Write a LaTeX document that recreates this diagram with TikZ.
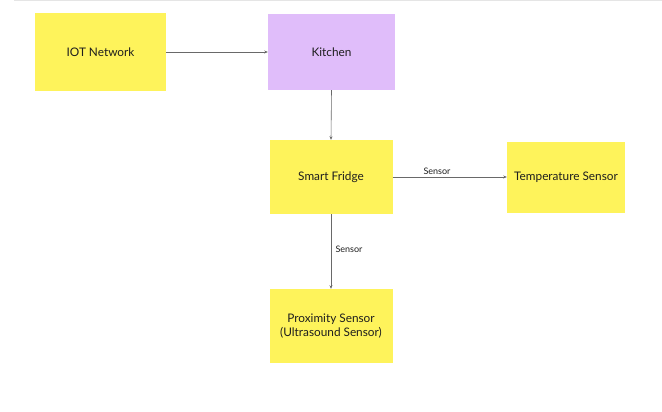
\documentclass[tikz,border=0pt]{standalone}
\usepackage{fontspec}
\setmainfont{Lato}
\usetikzlibrary{arrows.meta}
\definecolor{stickyyellow}{RGB}{254,243,91}
\definecolor{stickypurple}{RGB}{224,189,250}
\definecolor{linegray}{RGB}{105,105,105}
\definecolor{txt}{RGB}{30,30,30}
\begin{document}
\begin{tikzpicture}[x=1pt,y=-1pt,
  sticky/.style={rectangle, fill=stickyyellow, inner sep=0pt, align=center,
    font=\fontsize{11.8}{14.5}\selectfont, text=txt},
  conn/.style={draw=linegray, line width=0.6pt, -{Stealth[length=3.5pt,width=3pt]}},
  lbl/.style={font=\fontsize{9}{10}\selectfont, text=txt, inner sep=1pt}]
\useasboundingbox (0,0) rectangle (662,412);
\fill[white] (0,0) rectangle (662,412);
\draw[gray!20, line width=1.5pt] (14,0.6) -- (662,0.6);
\node[sticky, minimum width=131pt, minimum height=78pt] (iot) at (100.5,52) {IOT Network};
\node[sticky, fill=stickypurple, minimum width=127pt, minimum height=76pt] (kitchen) at (331.5,52) {Kitchen};
\node[sticky, minimum width=123pt, minimum height=74pt] (fridge) at (331,177) {Smart Fridge};
\node[sticky, minimum width=118pt, minimum height=71pt] (temp) at (566,177.5) {Temperature Sensor};
\node[sticky, minimum width=123pt, minimum height=74pt] (prox) at (331,326) {Proximity Sensor\\(Ultrasound Sensor)};
\draw[conn] (iot.east) -- (kitchen.west);
\draw[conn] (kitchen.south) -- (fridge.north);
\draw[conn] (fridge.east) -- (temp.west |- fridge.east);
\draw[conn] (fridge.south) -- (prox.north);
\node[lbl] (l1) at (437,171) {Sensor};
\node[lbl] (l2) at (349,249) {Sensor};
\end{tikzpicture}
\end{document}
